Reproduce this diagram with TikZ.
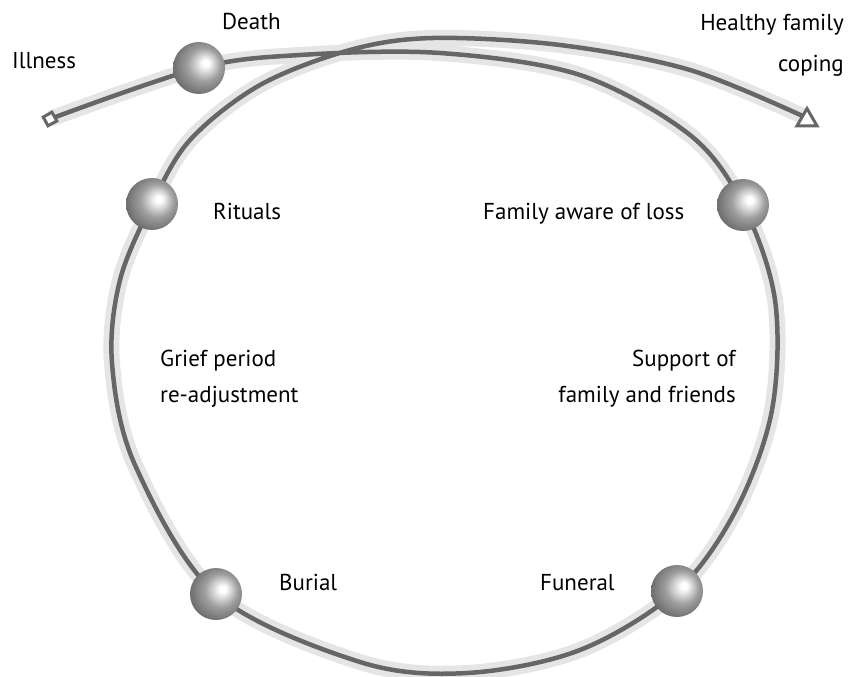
\documentclass[tikz,border=0pt]{standalone}
\usepackage{fontspec}
\setmainfont{PT Sans}
\usetikzlibrary{shapes.geometric}
\pgfdeclareradialshading{spherebw}{\pgfpoint{7bp}{5bp}}{color(0bp)=(white); color(3bp)=(white); color(16bp)=(black!38); color(34bp)=(black!66); color(50bp)=(black!75)}
\tikzset{
  halo/.style={line width=16pt, color=black!10},
  mainline/.style={line width=4.5pt, color=black!60},
  sphere/.style={circle, minimum size=52pt, inner sep=0pt, shading=spherebw},
  lbl/.style={inner sep=0pt, font=\fontsize{23}{36}\selectfont, text=black},
  startmark/.style={draw=black!60, fill=white, line width=3pt, rectangle, minimum size=10pt, inner sep=0pt, rotate=29},
  endmark/.style={draw=black!60, fill=white, line width=3pt, regular polygon, regular polygon sides=3, minimum size=23pt, inner sep=0pt},
}
\begin{document}
\begin{tikzpicture}[x=1pt, y=-1pt]
\useasboundingbox (0,0) rectangle (849,677);
% waypoints
\coordinate (s) at (50,119);
\coordinate (death) at (199,68);
\coordinate (w1) at (300,55);
\coordinate (w2) at (440,53);
\coordinate (w3) at (580,75);
\coordinate (w4) at (690,135);
\coordinate (fa) at (743,205);
\coordinate (w5) at (775,300);
\coordinate (w6) at (772,410);
\coordinate (w7) at (736,510);
\coordinate (fun) at (677,591);
\coordinate (w8) at (580,650);
\coordinate (w9) at (467,673);
\coordinate (w10) at (360,662);
\coordinate (bur) at (216,594);
\coordinate (w11) at (135,465);
\coordinate (w12) at (112,363);
\coordinate (w13) at (120,280);
\coordinate (rit) at (152,204);
\coordinate (w14) at (190,140);
\coordinate (w15) at (260,85);
\coordinate (w16) at (350,50);
\coordinate (w17) at (433,38);
\coordinate (w18) at (560,45);
\coordinate (w19) at (690,70);
\coordinate (e) at (807,118);
\def\looppath{plot[smooth, tension=0.55] coordinates {(s) (death) (w1) (w2) (w3) (w4) (fa) (w5) (w6) (w7) (fun) (w8) (w9) (w10) (bur) (w11) (w12) (w13) (rit) (w14) (w15) (w16) (w17) (w18) (w19) (e)}}
\draw[halo] \looppath;
\draw[mainline] \looppath;
% markers
\node[startmark] (startm) at (s) {};
\node[endmark] (endm) at (807,120) {};
% spheres
\node[sphere] (sDeath) at (death) {};
\node[sphere] (sRit) at (rit) {};
\node[sphere] (sFa) at (fa) {};
\node[sphere] (sFun) at (fun) {};
\node[sphere] (sBur) at (bur) {};
% labels
\node[lbl, anchor=base west] (tIll) at (12,69) {Illness};
\node[lbl, anchor=base west] (tDeath) at (222,30) {Death};
\node[lbl, anchor=base east, align=right] (tHealthy) at (844,72) {Healthy family\\[5pt]coping};
\node[lbl, anchor=base west] (tRit) at (213,219) {Rituals};
\node[lbl, anchor=base west] (tFa) at (483,219) {Family aware of loss};
\node[lbl, anchor=base west, align=left] (tGrief) at (160,402) {Grief period\\re-adjustment};
\node[lbl, anchor=base east, align=right] (tSupport) at (736,402) {Support of\\family and friends};
\node[lbl, anchor=base west] (tBur) at (279,590) {Burial};
\node[lbl, anchor=base west] (tFun) at (540,590) {Funeral};
\end{tikzpicture}
\end{document}
